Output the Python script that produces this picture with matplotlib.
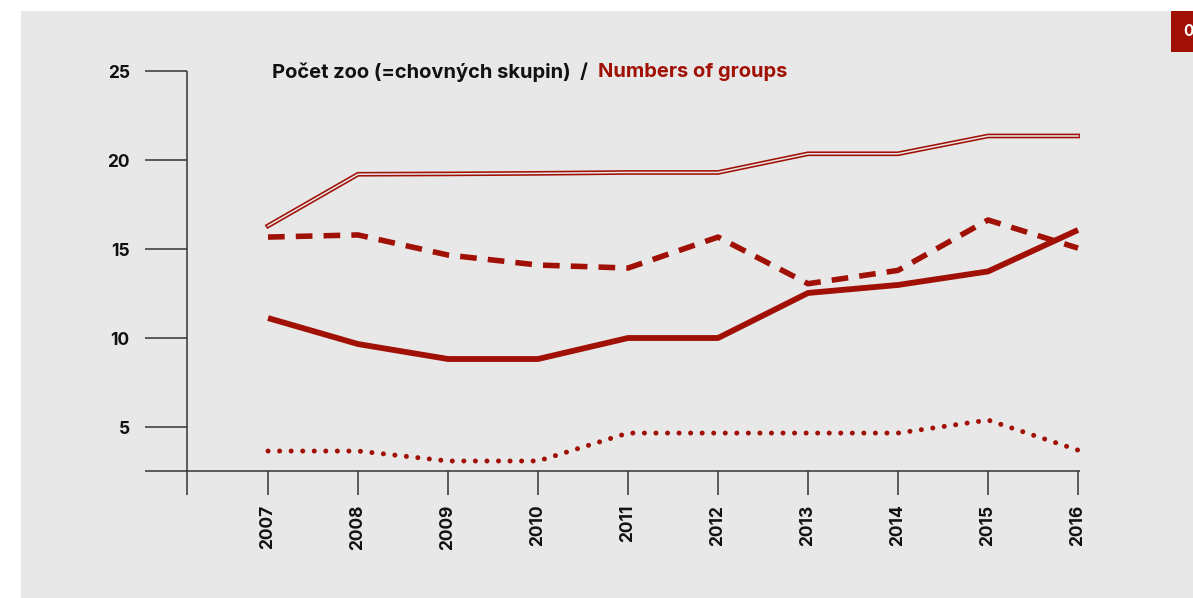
import matplotlib.pyplot as plt
from matplotlib.patches import Rectangle

# --- dados ---
roky = [2007, 2008, 2009, 2010, 2011, 2012, 2013, 2014, 2015, 2016]
rada_dvojita = [16.3, 19.2, 19.22, 19.25, 19.3, 19.3, 20.35, 20.35, 21.35, 21.35]
rada_carkovana = [15.67, 15.79, 14.66, 14.1, 13.93, 15.67, 13.05, 13.8, 16.63, 15.05]
rada_plna = [11.12, 9.66, 8.82, 8.82, 10.0, 10.0, 12.53, 12.98, 13.74, 16.07]
rada_teckovana = [3.65, 3.65, 3.09, 3.09, 4.66, 4.66, 4.66, 4.66, 5.39, 3.7]
y_ticks = [5, 10, 15, 20, 25]

CERVENA = '#A01005'
SEDA = '#E8E8E8'
OSA = '#333333'

W, H = 1193, 598
fig = plt.figure(figsize=(W / 100, H / 100), dpi=100, facecolor='white')

# pozadí panelu a červený štítek vpravo nahoře
fig.patches.append(Rectangle((21 / W, 0), 1 - 21 / W, 1 - 11 / H,
                             transform=fig.transFigure, facecolor=SEDA, edgecolor='none', zorder=-2))
fig.patches.append(Rectangle((1171 / W, 1 - 52 / H), 22 / W, 41 / H,
                             transform=fig.transFigure, facecolor=CERVENA, edgecolor='none', zorder=-1))
fig.text(1183 / W, 1 - 31 / H, '0', color='white', fontsize=11, fontweight='bold',
         family='Inter', ha='left', va='center')

# osa: 145..1080 px, 71..495 px
ax = fig.add_axes([145 / W, 1 - 495 / H, (1080 - 145) / W, (495 - 71) / H])
ax.patch.set_alpha(0)
for s in ax.spines.values():
    s.set_visible(False)

x_min, x_max = 2005.633, 2016.022
y_min, y_max = 1.18, 25.0
osa_x = 2006.1
osa_y = 2.53
ax.set_xlim(x_min, x_max)
ax.set_ylim(y_min, y_max)

# osy a značky
ax.vlines(osa_x, y_min, y_max, color=OSA, lw=1.1, clip_on=False)
ax.hlines(osa_y, x_min, x_max, color=OSA, lw=1.1, clip_on=False)
ax.hlines(y_ticks, x_min, osa_x, color=OSA, lw=1.1, clip_on=False)
ax.vlines(roky, y_min, osa_y, color=OSA, lw=1.1, clip_on=False)

ax.set_yticks(y_ticks)
ax.set_yticklabels([str(t) for t in y_ticks])
ax.set_xticks(roky)
ax.set_xticklabels([str(r) for r in roky], rotation=90)
ax.tick_params(axis='y', length=0, pad=11)
ax.tick_params(axis='x', length=0, pad=7)
for lab in ax.get_yticklabels() + ax.get_xticklabels():
    lab.set_fontweight('bold')
    lab.set_fontsize(12.5)
    lab.set_family('Inter')
    lab.set_color('#111111')

# řady
ax.plot(roky, rada_dvojita, color=CERVENA, lw=3.4, solid_joinstyle='miter', zorder=3)
ax.plot(roky, rada_dvojita, color=SEDA, lw=1.1, solid_joinstyle='miter', zorder=4)
ax.plot(roky, rada_carkovana, color=CERVENA, lw=4.0, dashes=(3.0, 2.0),
        dash_capstyle='butt', zorder=3)
ax.plot(roky, rada_plna, color=CERVENA, lw=4.2, solid_capstyle='butt', zorder=3)
ax.plot(roky, rada_teckovana, color=CERVENA, lw=3.6, dashes=(0.01, 2.3),
        dash_capstyle='round', zorder=3)

# nadpis ze dvou částí
t1 = fig.text(272 / W, 1 - 72 / H, 'Počet zoo (=chovných skupin)  /  ', color='#111111',
              fontsize=14.5, fontweight='bold', family='Inter', ha='left', va='center')
fig.canvas.draw()
bb = t1.get_window_extent()
fig.text(bb.x1 / W, 1 - 72 / H, 'Numbers of groups', color=CERVENA,
         fontsize=14.5, fontweight='bold', family='Inter', ha='left', va='center')

fig.savefig('out.png', dpi=100, facecolor='white')
